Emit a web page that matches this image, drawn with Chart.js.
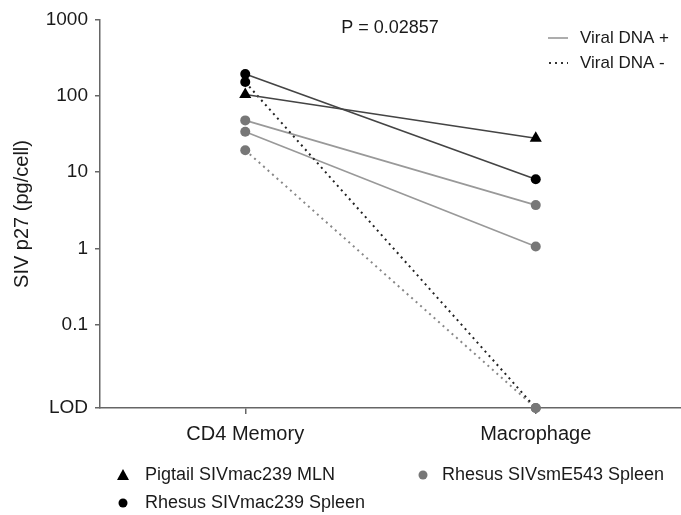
<!DOCTYPE html>
<html>
<head>
<meta charset="utf-8">
<script src="https://cdn.jsdelivr.net/npm/chart.js@4/dist/chart.umd.min.js"></script>
<style>
  body { margin: 0; background: #fff; }
  #wrap { width: 681px; height: 515px; position: relative; }
</style>
</head>
<body>
<div id="wrap"><canvas id="chart" width="681" height="515"></canvas></div>
<script>
// data
const categories = ['CD4 Memory', 'Macrophage'];
const LOD = 0.008;
const pigtailMLN = [105, 28];
const rhesusMacPos = [195, 8.1];
const rhesusMacNeg = [153, LOD];
const rhesusSmPosA = [48, 3.7];
const rhesusSmPosB = [34, 1.06];
const rhesusSmNeg = [19.5, LOD];
const yTickValues = [LOD, 0.1, 1, 10, 100, 1000];
const yTickLabels = ['LOD', '0.1', '1', '10', '100', '1000'];
const pValueText = 'P = 0.02857';

const FONT = '"Liberation Sans", Arial, Helvetica, sans-serif';
const AXIS = '#666';
const TEXT = '#1a1a1a';
const DARK = '#000';
const DARK_LINE = '#444';
const GREY = '#777';
const GREY_LINE = '#999';

function series(data, pointStyle, pointColor, lineColor, dashed) {
    return {
        data: data,
        borderColor: lineColor,
        borderWidth: dashed ? 2 : 1.6,
        borderDash: dashed ? [2, 4] : [],
        pointStyle: pointStyle,
        pointRadius: pointStyle === 'triangle' ? 7 : 5,
        pointBackgroundColor: pointColor,
        pointBorderColor: pointColor,
        pointBorderWidth: 0,
        fill: false,
        tension: 0,
        clip: false
    };
}

// legends + p value drawn on the canvas
const extras = {
    id: 'extras',
    afterDraw(chart) {
        const ctx = chart.ctx;
        ctx.save();
        ctx.fillStyle = TEXT;
        ctx.textBaseline = 'middle';

        ctx.font = '18px ' + FONT;
        ctx.textAlign = 'center';
        ctx.fillText(pValueText, 390, 28);

        // top right: viral DNA
        ctx.textAlign = 'left';
        ctx.font = '17px ' + FONT;
        ctx.strokeStyle = GREY_LINE;
        ctx.lineWidth = 1.6;
        ctx.beginPath(); ctx.moveTo(548, 38); ctx.lineTo(568, 38); ctx.stroke();
        ctx.fillText('Viral DNA +', 580, 38);
        ctx.strokeStyle = '#333';
        ctx.lineWidth = 2;
        ctx.setLineDash([2, 4]);
        ctx.beginPath(); ctx.moveTo(549, 63); ctx.lineTo(568, 63); ctx.stroke();
        ctx.setLineDash([]);
        ctx.fillText('Viral DNA -', 580, 63);

        // bottom: animals
        ctx.font = '18px ' + FONT;
        ctx.fillStyle = DARK;
        ctx.beginPath();
        ctx.moveTo(123, 469); ctx.lineTo(129, 480); ctx.lineTo(117, 480); ctx.closePath();
        ctx.fill();
        ctx.beginPath(); ctx.arc(123, 503, 4.5, 0, Math.PI * 2); ctx.fill();
        ctx.fillStyle = GREY;
        ctx.beginPath(); ctx.arc(423, 475, 4.5, 0, Math.PI * 2); ctx.fill();
        ctx.fillStyle = TEXT;
        ctx.fillText('Pigtail SIVmac239 MLN', 145, 475);
        ctx.fillText('Rhesus SIVmac239 Spleen', 145, 503);
        ctx.fillText('Rhesus SIVsmE543 Spleen', 442, 475);
        ctx.restore();
    }
};

new Chart(document.getElementById('chart'), {
    type: 'line',
    data: {
        labels: categories,
        datasets: [
            series(pigtailMLN, 'triangle', DARK, DARK_LINE, false),
            series(rhesusMacPos, 'circle', DARK, DARK_LINE, false),
            series(rhesusMacNeg, 'circle', [DARK, GREY], '#222', true),
            series(rhesusSmPosA, 'circle', GREY, GREY_LINE, false),
            series(rhesusSmPosB, 'circle', GREY, GREY_LINE, false),
            series(rhesusSmNeg, 'circle', GREY, '#888', true)
        ]
    },
    options: {
        responsive: false,
        animation: false,
        layout: { autoPadding: false, padding: { top: 20, right: 0, bottom: 0, left: 0 } },
        plugins: {
            legend: { display: false },
            tooltip: { enabled: false }
        },
        scales: {
            x: {
                type: 'category',
                offset: true,
                afterFit: s => { s.height = 107; },
                grid: { display: true, drawOnChartArea: false, tickLength: 6, color: AXIS, lineWidth: 1.5 },
                border: { color: AXIS, width: 1.5 },
                ticks: { color: TEXT, font: { family: FONT, size: 20 }, padding: 8 }
            },
            y: {
                type: 'logarithmic',
                min: LOD,
                max: 1000,
                afterFit: s => { s.width = 100; },
                afterBuildTicks: s => { s.ticks = yTickValues.map(v => ({ value: v })); },
                grid: { display: true, drawOnChartArea: false, tickLength: 5, color: AXIS, lineWidth: 1.5 },
                border: { color: AXIS, width: 1.5 },
                ticks: {
                    color: TEXT,
                    font: { family: FONT, size: 19 },
                    padding: 7,
                    autoSkip: false,
                    callback: (value, index) => yTickLabels[index]
                },
                title: {
                    display: true,
                    text: 'SIV p27 (pg/cell)',
                    color: TEXT,
                    font: { family: FONT, size: 20 },
                    padding: { top: 10, bottom: 0 }
                }
            }
        }
    },
    plugins: [extras]
});
</script>
</body>
</html>
